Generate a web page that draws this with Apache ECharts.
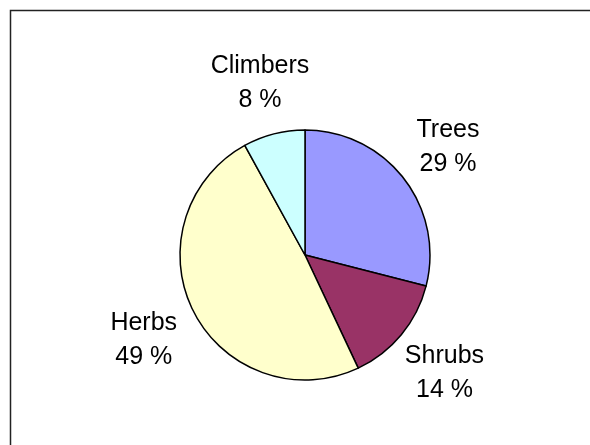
<!DOCTYPE html>
<html>
<head>
<meta charset="utf-8">
<script src="https://cdn.jsdelivr.net/npm/echarts@6/dist/echarts.min.js"></script>
<style>
  html, body { margin: 0; padding: 0; background: #fff; }
  #chart { width: 590px; height: 445px; }
</style>
</head>
<body>
<div id="chart"></div>
<script>
// plant types, percent of species
var categories = ["Trees", "Shrubs", "Herbs", "Climbers"];
var values = [29, 14, 49, 8];
var colors = ["#9999ff", "#993366", "#ffffcc", "#ccffff"];

var pieData = [];
for (var i = 0; i < categories.length; i++) {
    pieData.push({
        name: categories[i],
        value: values[i],
        itemStyle: { color: colors[i] }
    });
}

var chart = echarts.init(document.getElementById("chart"));
window.addEventListener("resize", chart.resize);

var option = {
    animation: false,
    backgroundColor: "#fff",
    graphic: [{
        type: "rect",
        shape: { x: 10.5, y: 10.5, width: 620, height: 480 },
        style: { fill: null, stroke: "#222", lineWidth: 1.5 },
        silent: true
    }],
    series: [{
        // the pie itself
        type: "pie",
        center: [305, 255],
        radius: [0, 125],
        startAngle: 90,
        clockwise: true,
        data: pieData,
        silent: true,
        itemStyle: { borderColor: "#000", borderWidth: 1.5 },
        label: { show: false },
        labelLine: { show: false },
        emphasis: { disabled: true }
    }, {
        // invisible ring, only used to put the labels outside the pie
        type: "pie",
        center: [305, 258],
        radius: [0, 356],
        startAngle: 90,
        clockwise: true,
        silent: true,
        data: pieData.map(function(d) {
            return { name: d.name, value: d.value };
        }),
        itemStyle: { color: "rgba(0,0,0,0)", borderWidth: 0 },
        label: {
            show: true,
            position: "inner",
            rotate: 0,
            formatter: "{b}\n{c} %",
            fontFamily: "Liberation Sans, Arial, sans-serif",
            fontSize: 25,
            lineHeight: 34,
            color: "#000",
            align: "center"
        },
        labelLine: { show: false },
        emphasis: { disabled: true }
    }]
};
chart.setOption(option);
</script>
</body>
</html>
